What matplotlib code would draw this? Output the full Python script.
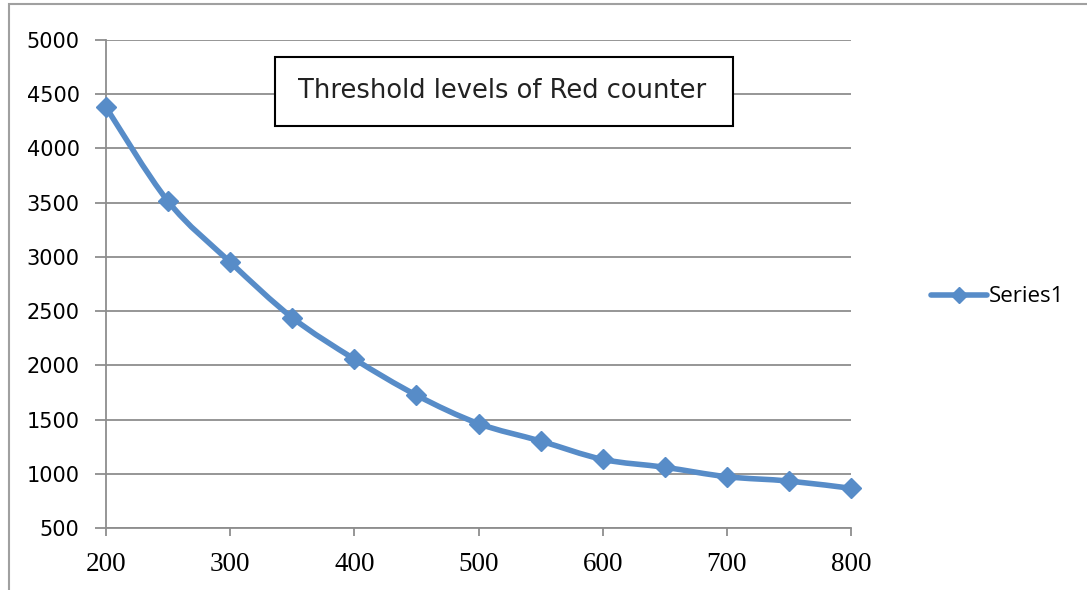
import numpy as np
import matplotlib.pyplot as plt
from matplotlib.path import Path
from matplotlib.patches import PathPatch, Rectangle
from matplotlib.lines import Line2D

# Data
x_vals = [200, 250, 300, 350, 400, 450, 500, 550, 600, 650, 700, 750, 800]
y_vals = [4380, 3512, 2952, 2440, 2058, 1725, 1463, 1302, 1133, 1060, 973, 933, 866]
x_ticks = [200, 300, 400, 500, 600, 700, 800]
y_ticks = [500, 1000, 1500, 2000, 2500, 3000, 3500, 4000, 4500, 5000]
title_text = "Threshold levels of Red counter"
series_name = "Series1"

blue = '#578CC8'
grid_grey = '#8E8E8E'
W, H = 1087, 590

fig = plt.figure(figsize=(W / 100, H / 100), dpi=100)
ax = fig.add_axes([106 / W, 1 - 528 / H, (851 - 106) / W, (528 - 40) / H])

# smooth line through points (Catmull-Rom as cubic Bezier segments)
pts = np.column_stack([x_vals, y_vals]).astype(float)
ext = np.vstack([pts[0], pts, pts[-1]])
verts = [tuple(pts[0])]
codes = [Path.MOVETO]
for i in range(1, len(ext) - 2):
    p0, p1, p2, p3 = ext[i - 1], ext[i], ext[i + 1], ext[i + 2]
    c1 = p1 + (p2 - p0) / 6
    c2 = p2 - (p3 - p1) / 6
    verts += [tuple(c1), tuple(c2), tuple(p2)]
    codes += [Path.CURVE4] * 3
ax.add_patch(PathPatch(Path(verts, codes), fill=False, edgecolor=blue,
                       linewidth=4, capstyle='round', joinstyle='round', zorder=3))
ax.plot(x_vals, y_vals, linestyle='none', marker='D', markersize=10.5,
        color=blue, zorder=4, clip_on=False)

ax.set_xlim(200, 800)
ax.set_ylim(500, 5000)
ax.set_xticks(x_ticks)
ax.set_yticks(y_ticks)
ax.grid(True, axis='y', color=grid_grey, linewidth=1.3)
ax.set_axisbelow(True)
for side in ['top', 'right']:
    ax.spines[side].set_visible(False)
for side in ['left', 'bottom']:
    ax.spines[side].set_color(grid_grey)
    ax.spines[side].set_linewidth(1.3)
ax.tick_params(axis='both', color=grid_grey, width=1.3)
ax.tick_params(axis='y', length=8, pad=11)
ax.tick_params(axis='x', length=6, pad=11)
for lbl in ax.get_yticklabels():
    lbl.set_fontfamily('DejaVu Sans')
    lbl.set_fontsize(15)
for lbl in ax.get_xticklabels():
    lbl.set_fontfamily('Liberation Serif')
    lbl.set_fontsize(19.5)

# title box
fig.add_artist(Rectangle((275 / W, 1 - 126 / H), (733 - 275) / W, (126 - 57) / H,
                         transform=fig.transFigure, facecolor='white',
                         edgecolor='black', linewidth=1.5, zorder=5))
fig.text(502 / W, 1 - 91 / H, title_text, ha='center', va='center',
         fontsize=18.5, family='DejaVu Sans', color='#222222', zorder=6)

# legend
handle = Line2D([], [], color=blue, linewidth=4, marker='D', markersize=8.5,
                solid_capstyle='round')
fig.legend([handle], [series_name], loc='center left',
           bbox_to_anchor=(911 / W, 1 - 297 / H), frameon=False,
           handlelength=2.5, handletextpad=0.1,
           prop={'family': 'Open Sans', 'size': 16})

# chart border (left and top edges visible)
fig.add_artist(Rectangle((8.5 / W, -0.05), 1.1, 1.05 - 4.5 / H,
                         transform=fig.transFigure, fill=False,
                         edgecolor='#A0A0A0', linewidth=1.5))

fig.savefig('out.png', dpi=100)
